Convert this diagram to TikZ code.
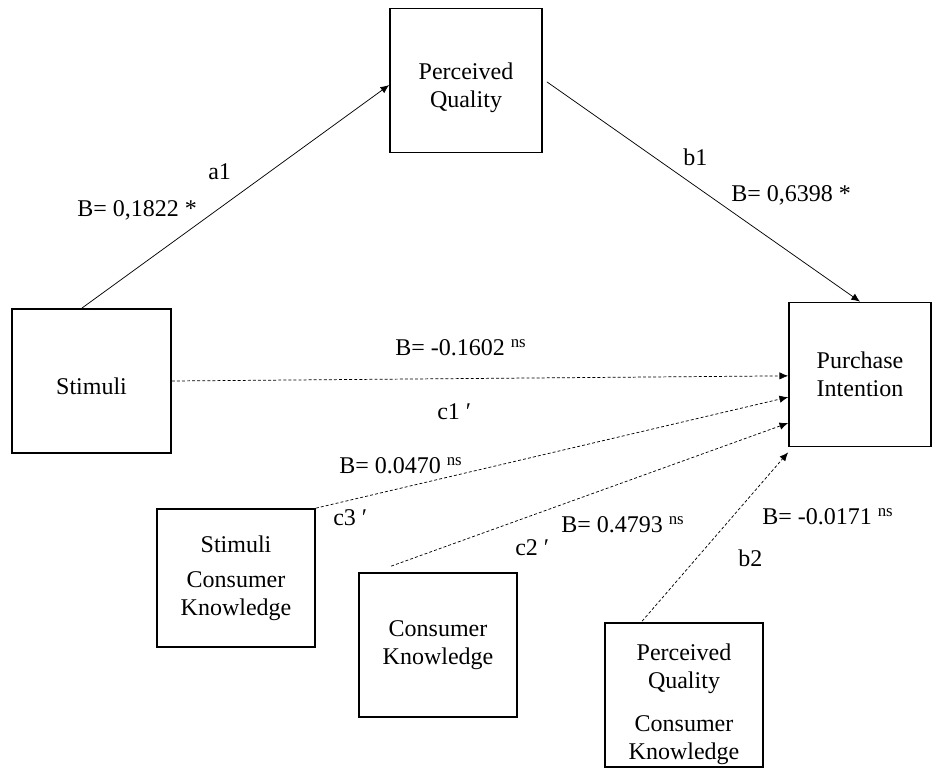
\documentclass[tikz,border=0pt]{standalone}
\usepackage{fontspec}
\setmainfont{Liberation Serif}
\usetikzlibrary{positioning,calc,arrows.meta}

\begin{document}
\begin{tikzpicture}[
    x=0.75pt, y=-0.75pt,
    every node/.style={font=\fontsize{18}{21}\selectfont},
    construct/.style={
        draw,
        line width=1.3pt,
        inner sep=0pt,
        minimum width=118.5pt,
        minimum height=108pt,
        align=center
    },
    direct/.style={-{Latex[length=6.5pt,width=5.5pt]}, line width=0.55pt},
    indirect/.style={direct, dash pattern=on 2.2pt off 1.6pt},
    coef/.style={inner sep=0pt, anchor=west}
]
\useasboundingbox (0,0) rectangle (933,769);

\node[construct, minimum width=114pt] (pq) at (466,80.5) {\rule{0pt}{24pt}Perceived\\Quality};
\node[construct, minimum width=119.25pt] (stim) at (91.5,381) {\rule{0pt}{21pt}Stimuli};
\node[construct, minimum width=106.5pt] (pi) at (860,374.5) {Purchase\\Intention};
\node[construct, minimum height=103.5pt] (sck) at (236,578) {Stimuli\\[5pt]Consumer\\Knowledge};
\node[construct] (ck) at (438,645) {Consumer\\Knowledge};
\node[construct] (pqck) at (684,695) {\rule{0pt}{26pt}Perceived\\Quality\\[11pt]Consumer\\Knowledge};

\draw[direct] ($(stim.north west)!0.44!(stim.north east)$) -- ([yshift=-3.4pt]pq.west);
\draw[direct] ([xshift=3pt,yshift=-1pt]pq.east) -- (pi.north);
\draw[indirect] (stim.east) -- ([yshift=-1pt]pi.west);
\draw[indirect] (sck.north east) -- ([yshift=-17pt]pi.west);
\draw[indirect] ([shift={(24.75pt,4.5pt)}]ck.north west) -- ([yshift=-36.4pt]pi.west);
\draw[indirect] ([shift={(28.5pt,0.75pt)}]pqck.north west) -- ([yshift=-3.75pt]pi.south west);

\node[coef] (a1) at (208,172) {a1};
\node[coef] (ba1) at (77,210) {B= 0,1822 *};
\node[coef] (b1) at (683,157) {b1};
\node[coef] (bb1) at (731,195) {B= 0,6398 *};
\node[coef] (bc1) at (395,348) {B= -0.1602 \textsuperscript{ns}};
\node[coef] (c1) at (437,412) {c1 ′};
\node[coef] (bc3) at (339,466) {B= 0.0470 \textsuperscript{ns}};
\node[coef] (c3) at (333,518) {c3 ′};
\node[coef] (bc2) at (561,525) {B= 0.4793 \textsuperscript{ns}};
\node[coef] (c2) at (515,548) {c2 ′};
\node[coef] (bb2) at (762,517) {B= -0.0171 \textsuperscript{ns}};
\node[coef] (b2) at (738,558) {b2};
\end{tikzpicture}
\end{document}
